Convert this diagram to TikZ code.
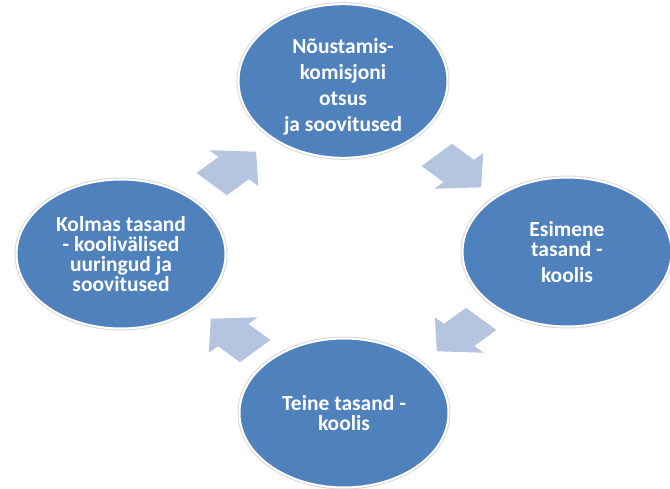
\documentclass[tikz,border=0pt]{standalone}
\usepackage{fontspec}
\setmainfont{Carlito}
\usetikzlibrary{shapes.geometric, shapes.arrows}

\definecolor{stageblue}{RGB}{79,129,189}
\definecolor{arrowblue}{RGB}{181,196,223}

\tikzset{
    stage/.style={ellipse, fill=stageblue, draw=white, line width=2pt,
        minimum width=209pt, minimum height=149pt, inner sep=0pt,
        text=white, align=center, font=\bfseries\fontsize{21.5}{20}\selectfont,
        preaction={draw=black!15, line width=4pt}},
    cyclearrow/.style={single arrow, fill=arrowblue, draw=none,
        inner sep=15.5pt, minimum height=42pt, single arrow head extend=9.5pt,
        single arrow tip angle=95, xscale=1.37},
}

\begin{document}
\begin{tikzpicture}[x=1pt, y=-1pt]
    \useasboundingbox (0,0) rectangle (670,488);

    % The four stages
    \node[stage] (komisjon) at (343,81)
        {\rule{0pt}{27pt}Nõustamis-\\[6pt]komisjoni\\[6pt]otsus\\[6pt]ja soovitused};
    \node[stage] (esimene) at (567,252) {Esimene\\tasand -\\[6pt]koolis};
    \node[stage] (teine) at (344,413) {Teine tasand -\\koolis};
    \node[stage] (kolmas) at (121,254)
        {Kolmas tasand\\- koolivälised\\uuringud ja\\soovitused};

    % Block arrows of the cycle
    \node[cyclearrow, rotate=45] (a1) at (227,173) {};
    \node[cyclearrow, rotate=-45] (a2) at (452,166) {};
    \node[cyclearrow, rotate=-135] (a3) at (466,330) {};
    \node[cyclearrow, rotate=135] (a4) at (240,340) {};
\end{tikzpicture}
\end{document}
